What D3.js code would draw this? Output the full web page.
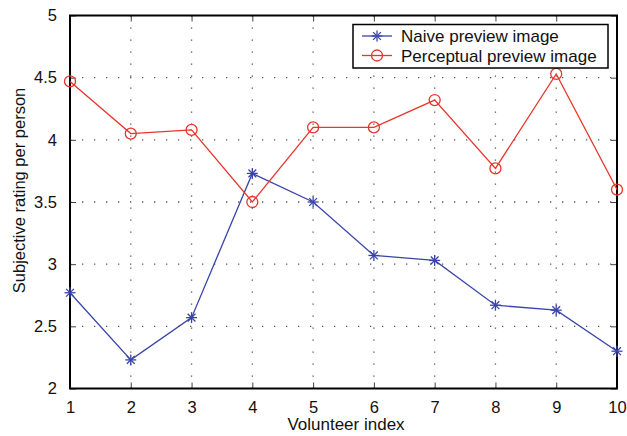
<!DOCTYPE html>
<html>
<head>
<meta charset="utf-8">
<script src="https://cdn.jsdelivr.net/npm/d3@7"></script>
<style>
  html, body { margin: 0; padding: 0; background: #fff; }
  svg { display: block; font-family: "Liberation Sans", Arial, Helvetica, sans-serif; }
</style>
</head>
<body>
<svg id="chart" width="627" height="436"></svg>
<script>
// Volunteer indices and per-person ratings for the two preview methods
const volunteers = [1, 2, 3, 4, 5, 6, 7, 8, 9, 10];
const naiveRatings = [2.77, 2.23, 2.57, 3.73, 3.50, 3.07, 3.03, 2.67, 2.63, 2.30];
const perceptualRatings = [4.47, 4.05, 4.08, 3.50, 4.10, 4.10, 4.32, 3.77, 4.53, 3.60];
const yTicks = [2, 2.5, 3, 3.5, 4, 4.5, 5];
const seriesNames = ["Naive preview image", "Perceptual preview image"];

const svg = d3.select("#chart");
const margin = { left: 70, right: 10, top: 15.5, bottom: 47.5 };
const W = 627, H = 436;
const x0 = margin.left, x1 = W - margin.right;
const y0 = H - margin.bottom, y1 = margin.top;

const x = d3.scaleLinear().domain([1, 10]).range([x0, x1]);
const y = d3.scaleLinear().domain([2, 5]).range([y0, y1]);

// Dotted grid
const grid = svg.append("g");
grid.selectAll("line.gx").data(volunteers.slice(1, -1)).join("line")
  .attr("x1", d => x(d)).attr("x2", d => x(d))
  .attr("y1", y1).attr("y2", y0)
  .attr("stroke", "#555").attr("stroke-width", 1.3)
  .attr("stroke-dasharray", "1.3,10.7");
grid.selectAll("line.gy").data(yTicks.slice(1, -1)).join("line")
  .attr("y1", d => y(d)).attr("y2", d => y(d))
  .attr("x1", x0).attr("x2", x1)
  .attr("stroke", "#555").attr("stroke-width", 1.3)
  .attr("stroke-dasharray", "1.3,10.7");

// Axes with inward ticks on all four sides
const tickLen = 6;
const axBottom = svg.append("g").attr("transform", `translate(0,${y0})`)
  .call(d3.axisBottom(x).tickValues(volunteers).tickFormat(d3.format("d")).tickSizeInner(-tickLen).tickSizeOuter(0).tickPadding(13));
const axTop = svg.append("g").attr("transform", `translate(0,${y1})`)
  .call(d3.axisTop(x).tickValues(volunteers).tickFormat("").tickSizeInner(-tickLen).tickSizeOuter(0));
const axLeft = svg.append("g").attr("transform", `translate(${x0},0)`)
  .call(d3.axisLeft(y).tickValues(yTicks).tickFormat(d3.format("")).tickSizeInner(-tickLen).tickSizeOuter(0).tickPadding(13));
const axRight = svg.append("g").attr("transform", `translate(${x1},0)`)
  .call(d3.axisRight(y).tickValues(yTicks).tickFormat("").tickSizeInner(-tickLen).tickSizeOuter(0));

[axBottom, axTop, axLeft, axRight].forEach(g => {
  g.select(".domain").remove();
  g.selectAll(".tick line").attr("stroke", "#444").attr("stroke-width", 1);
  g.selectAll(".tick text").attr("fill", "#111").style("font-size", "16.5px");
});

// Box frame
svg.append("rect")
  .attr("x", x0).attr("y", y1).attr("width", x1 - x0).attr("height", y0 - y1)
  .attr("fill", "none").attr("stroke", "#000").attr("stroke-width", 2);

// Series
const lineGen = d3.line().x((d, i) => x(volunteers[i])).y(d => y(d));
const blue = "#3a45a8", red = "#e8352b";

function star(g, cx, cy, r, color) {
  const s = g.append("g").attr("transform", `translate(${cx},${cy})`)
    .attr("stroke", color).attr("stroke-width", 1.3);
  [0, 45, 90, 135].forEach(a => {
    const rad = a * Math.PI / 180;
    s.append("line")
      .attr("x1", -r * Math.cos(rad)).attr("y1", -r * Math.sin(rad))
      .attr("x2", r * Math.cos(rad)).attr("y2", r * Math.sin(rad));
  });
}
function circ(g, cx, cy, r, color) {
  g.append("circle").attr("cx", cx).attr("cy", cy).attr("r", r)
    .attr("fill", "none").attr("stroke", color).attr("stroke-width", 1.3);
}

const gBlue = svg.append("g");
gBlue.append("path").datum(naiveRatings).attr("d", lineGen)
  .attr("fill", "none").attr("stroke", blue).attr("stroke-width", 1.3);
naiveRatings.forEach((v, i) => star(gBlue, x(volunteers[i]), y(v), 5.5, blue));

const gRed = svg.append("g");
gRed.append("path").datum(perceptualRatings).attr("d", lineGen)
  .attr("fill", "none").attr("stroke", red).attr("stroke-width", 1.3);
perceptualRatings.forEach((v, i) => circ(gRed, x(volunteers[i]), y(v), 5.5, red));

// Legend
const leg = svg.append("g");
leg.append("rect").attr("x", 353).attr("y", 24.5).attr("width", 255).attr("height", 43.5)
  .attr("fill", "#fff").attr("stroke", "#000").attr("stroke-width", 1.5);
const legRows = [
  { name: seriesNames[0], color: blue, mark: star, ly: 36 },
  { name: seriesNames[1], color: red, mark: circ, ly: 55.5 }
];
legRows.forEach(r => {
  leg.append("line").attr("x1", 362).attr("x2", 392).attr("y1", r.ly).attr("y2", r.ly)
    .attr("stroke", r.color).attr("stroke-width", 1.3);
  r.mark(leg, 377, r.ly, 5.5, r.color);
  leg.append("text").attr("x", 401).attr("y", r.ly + 6)
    .attr("fill", "#111").style("font-size", "17px").text(r.name);
});

// Axis titles
svg.append("text").attr("x", 346).attr("y", 430)
  .attr("text-anchor", "middle").attr("fill", "#111").style("font-size", "17px")
  .text("Volunteer index");
svg.append("text").attr("transform", `translate(25,190.5) rotate(-90)`)
  .attr("text-anchor", "middle").attr("fill", "#111").style("font-size", "16.5px")
  .text("Subjective rating per person");
</script>
</body>
</html>
